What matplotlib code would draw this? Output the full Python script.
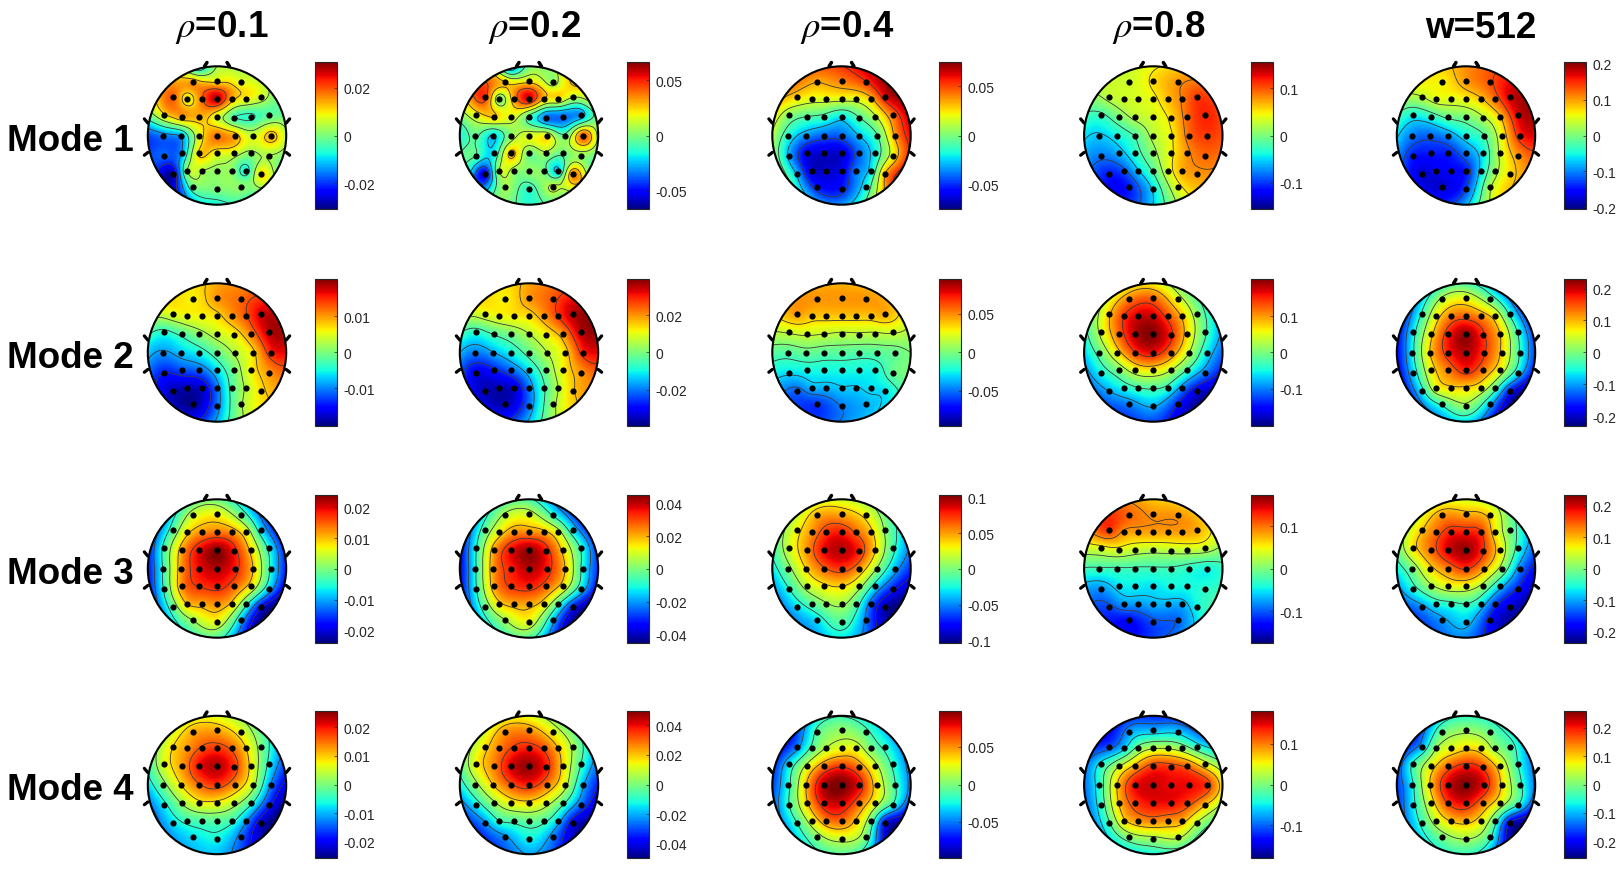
#!/usr/bin/env python3
"""Scalp maps of the four modes, one column per setting."""

import numpy as np
import matplotlib
matplotlib.use("Agg")
import matplotlib.pyplot as plt
from matplotlib.patches import Circle

plt.rcParams['font.family'] = ['Liberation Sans', 'DejaVu Sans']
plt.rcParams['mathtext.fontset'] = 'stix'

W, H = 1619, 870

col_titles = [r'$\rho$=0.1', r'$\rho$=0.2', r'$\rho$=0.4', r'$\rho$=0.8', 'w=512']
row_titles = ['Mode 1', 'Mode 2', 'Mode 3', 'Mode 4']

# electrodes, in head radii
elec_x = [-0.35, 0, 0.35,
          -0.64, -0.43, -0.22, 0, 0.21, 0.42, 0.63,
          -0.76, -0.50, -0.26, 0, 0.25, 0.49, 0.75,
          -0.78, -0.52, -0.26, 0, 0.26, 0.52, 0.78,
          -0.76, -0.50, -0.26, 0, 0.25, 0.49, 0.75,
          -0.64, -0.43, -0.22, 0, 0.21, 0.42, 0.63,
          -0.35, 0, 0.35]
elec_y = [0.77, 0.79, 0.77,
          0.55, 0.53, 0.53, 0.53, 0.53, 0.53, 0.55,
          0.30, 0.27, 0.27, 0.27, 0.26, 0.27, 0.30,
          0.0, 0.0, 0.0, 0.0, 0.0, 0.0, 0.0,
          -0.29, -0.26, -0.26, -0.26, -0.26, -0.26, -0.29,
          -0.55, -0.52, -0.52, -0.52, -0.52, -0.52, -0.55,
          -0.75, -0.78, -0.75]

# colour limit of each map (mode, column)
limits = [[0.0308, 0.0667, 0.0747, 0.155, 0.205],
          [0.0203, 0.0394, 0.095, 0.2028, 0.23],
          [0.024, 0.045, 0.103, 0.174, 0.234],
          [0.0257, 0.0498, 0.098, 0.181, 0.26]]

ticks = [[[-.02, 0, .02], [-.05, 0, .05], [-.05, 0, .05], [-.1, 0, .1], [-.2, -.1, 0, .1, .2]],
         [[-.01, 0, .01], [-.02, 0, .02], [-.05, 0, .05], [-.1, 0, .1], [-.2, -.1, 0, .1, .2]],
         [[-.02, -.01, 0, .01, .02], [-.04, -.02, 0, .02, .04], [-.1, -.05, 0, .05, .1], [-.1, 0, .1], [-.2, -.1, 0, .1, .2]],
         [[-.02, -.01, 0, .01, .02], [-.04, -.02, 0, .02, .04], [-.05, 0, .05], [-.1, 0, .1], [-.2, -.1, 0, .1, .2]]]

# electrode values, percent of the colour limit
m1_01 = [50, 30, 25, 62, 25, 60, 90, 45, 30, 20, 35, 50, 45, 20, -15, -20, -10,
         -50, -40, 25, 58, 45, 20, 45, -55, -40, 40, 25, 20, 5, 10,
         -90, 10, 10, 5, 5, -25, 35, -5, 0, 5]
m1_02 = [40, 30, 5, 70, 0, 50, 85, 40, 35, 15, 30, 40, 25, -15, -55, -55, -45,
         -5, -35, 5, 25, 30, -5, 65, -10, -25, 45, -5, 10, -5, 5,
         -80, 15, 5, 5, 0, -35, 55, 10, -20, 20]
m1_04 = [45, 55, 70, 35, 25, 25, 25, 25, 40, 80, 5, -10, -15, -30, -10, 15, 60,
         -20, -45, -55, -55, -35, -10, 50, -40, -80, -85, -85, -55, -25, 30,
         -40, -85, -85, -80, -50, -30, 45, -70, -70, -25]
m1_08 = [20, 35, 50, 15, 20, 22, 28, 42, 55, 70, -15, 0, 15, 22, 35, 60, 75,
         -35, -25, -10, 15, 30, 60, 70, -50, -40, -20, 5, 28, 50, 60,
         -70, -60, -35, -10, 22, 45, 50, -70, -30, 25]
m1_w = [30, 50, 65, 15, 25, 25, 30, 40, 60, 85, -25, -20, -5, 0, 15, 40, 85,
        -50, -55, -45, -25, -10, 30, 75, -70, -70, -70, -50, -25, 20, 50,
        -85, -80, -75, -70, -30, 10, 35, -85, -60, 15]

m2_01 = [30, 50, 60, 25, 28, 30, 35, 50, 65, 85, -20, -10, 5, 20, 30, 55, 90,
         -45, -35, -25, -5, 15, 35, 75, -70, -60, -55, -30, 0, 30, 50,
         -90, -90, -85, -50, -10, 15, 35, -95, -50, 10]
m2_02 = [30, 50, 65, 25, 28, 32, 35, 50, 70, 90, -20, -10, 0, 15, 30, 50, 90,
         -50, -40, -25, -5, 15, 35, 75, -80, -70, -55, -30, 0, 30, 50,
         -90, -90, -85, -50, -15, 15, 40, -90, -50, 10]
m2_04 = [50, 50, 50, 48, 40, 40, 40, 40, 40, 45, 20, 20, 18, 15, 15, 15, 20,
         -10, -5, -8, -8, -10, -8, -5, -30, -25, -25, -25, -25, -25, -5,
         -55, -40, -40, -35, -35, -30, -30, -65, -50, -40]
m2_08 = [55, 60, 25, 40, 70, 85, 85, 65, 40, 5, 20, 60, 90, 98, 75, 35, -10,
         -5, 35, 70, 80, 55, 15, -30, -25, 0, 25, 30, 15, -15, -50,
         -40, -25, -15, -12, -20, -50, -80, -50, -40, -70]
m2_w = [15, 25, -5, -15, 30, 55, 60, 50, 30, -20, -25, 35, 75, 95, 70, 40, -20,
        -25, 40, 75, 90, 70, 35, -20, -30, 30, 55, 75, 55, 25, -30,
        -25, 25, 35, 35, 25, -10, -70, -15, 5, -40]

m3_01 = [20, 28, -5, -8, 35, 50, 55, 50, 25, -30, -12, 50, 80, 98, 75, 35, -25,
         -18, 50, 80, 90, 75, 40, -25, -15, 55, 70, 75, 60, 30, -35,
         -5, 40, 45, 50, 35, -15, -75, 10, 25, -40]
m3_02 = [15, 20, -20, -5, 30, 50, 50, 45, 20, -30, -18, 50, 80, 95, 75, 35, -20,
         -22, 50, 75, 90, 75, 40, -25, -18, 50, 70, 75, 60, 30, -30,
         -5, 35, 45, 45, 30, -15, -70, 10, 25, -40]
m3_04 = [45, 45, 30, 30, 50, 70, 75, 60, 40, 5, 20, 50, 80, 90, 75, 35, -15,
         0, 35, 60, 70, 50, 5, -40, -20, 15, 30, 35, 15, -30, -70,
         -30, -10, 5, 10, -10, -55, -90, -30, -10, -50]
m3_08 = [60, 50, 50, 70, 50, 48, 48, 48, 48, 45, 25, 25, 18, 15, 15, 18, 20,
         -15, -15, -15, -15, -15, -20, -25, -45, -30, -28, -30, -25, -25, -20,
         -60, -45, -45, -40, -40, -40, -25, -75, -60, -55]
m3_w = [50, 45, 35, 40, 60, 75, 75, 70, 30, 0, 35, 60, 85, 95, 70, 30, -20,
        0, 35, 55, 70, 45, 5, -50, -20, 10, 25, 25, 5, -35, -70,
        -45, -25, -20, -15, -30, -65, -85, -45, -35, -75]

m4_01 = [45, 45, 25, 35, 50, 65, 70, 60, 35, 0, 25, 50, 80, 90, 70, 30, -25,
         0, 35, 60, 70, 50, 15, -50, -25, 10, 30, 30, 15, -15, -70,
         -30, -15, -10, -8, -15, -45, -85, -30, -25, -55]
m4_02 = [50, 50, 25, 35, 55, 70, 75, 65, 40, 10, 30, 55, 85, 95, 75, 35, -15,
         5, 40, 65, 75, 55, 20, -40, -25, 10, 30, 35, 20, -10, -55,
         -45, -15, -10, -5, -10, -35, -80, -45, -25, -50]
m4_04 = [-10, 5, -10, -50, -10, 15, 25, 25, 0, -20, -30, 20, 55, 70, 55, 20, -20,
         -24, 40, 90, 100, 80, 30, -15, -16, 40, 80, 85, 60, 25, -20,
         -15, 25, 55, 60, 40, 0, -75, 5, 20, 0]
m4_08 = [-45, -40, -35, -60, -35, 0, 15, 15, 5, -20, -25, 15, 45, 70, 70, 60, 25,
         -20, 40, 80, 85, 80, 80, 70, -20, 40, 70, 80, 80, 70, 40,
         -10, 35, 50, 55, 50, 45, 15, 5, 10, 20]
m4_w = [-5, 5, -5, -40, 10, 25, 35, 30, 5, -10, -15, 30, 60, 75, 65, 30, -20,
        -25, 40, 85, 98, 80, 35, -15, -25, 30, 70, 80, 55, 25, -20,
        -15, 20, 40, 45, 30, -10, -80, 0, 10, -15]

maps = [[m1_01, m1_02, m1_04, m1_08, m1_w],
        [m2_01, m2_02, m2_04, m2_08, m2_w],
        [m3_01, m3_02, m3_04, m3_08, m3_w],
        [m4_01, m4_02, m4_04, m4_08, m4_w]]

# values read on the rim of the two busy maps, degrees clockwise from the nose
rim_angle = [0, 30, 60, 90, 120, 150, 180, 210, 240, 270, 300, 330, 344]
rim_m1_01 = [10, 15, -5, 15, 0, -10, -25, -55, -70, -60, 40, 30, -25]
rim_m1_02 = [0, 30, 15, 10, 0, 0, -20, -5, -25, -25, 45, 40, -40]
rims = {(0, 0): rim_m1_01, (0, 1): rim_m1_02}

# layout in pixels of the full picture
head_cx = [217, 529, 841.5, 1153.3, 1466]
head_cy = [136.5, 353.5, 569.5, 786]
head_r = 69.2
bar_x = [315, 627, 939, 1251, 1564]
bar_y = [(63, 210), (280, 426.7), (496, 643.7), (712, 859)]
bar_w = 21.5
title_x = [222, 535, 847, 1159, 1481]
title_y = 28
label_dy = 5

ex = np.array(elec_x)
ey = np.array(elec_y)


def biharmonic(xs, ys, z, gx, gy):
    # same idea as griddata v4
    d = np.hypot(xs[:, None] - xs[None, :], ys[:, None] - ys[None, :])
    g = np.where(d > 0, d**2 * (np.log(np.maximum(d, 1e-9)) - 1), 0)
    w = np.linalg.solve(g, z)
    dg = np.hypot(gx[..., None] - xs, gy[..., None] - ys)
    gg = np.where(dg > 0, dg**2 * (np.log(np.maximum(dg, 1e-9)) - 1), 0)
    return gg @ w


def px_axes(fig, x0, y0, x1, y1):
    return fig.add_axes([x0 / W, 1 - y1 / H, (x1 - x0) / W, (y1 - y0) / H])


fig = plt.figure(figsize=(W / 100, H / 100), dpi=100)

grid = np.linspace(-1, 1, 161)
gx, gy = np.meshgrid(grid, grid)
pad = 1.12

for r in range(4):
    for c in range(5):
        lim = limits[r][c]
        cx, cy = head_cx[c], head_cy[r]
        size = head_r * pad
        ax = px_axes(fig, cx - size, cy - size, cx + size, cy + size)
        xs, ys = ex, ey
        vals = np.array(maps[r][c], dtype=float)
        if (r, c) in rims:
            a = np.radians(rim_angle)
            xs = np.concatenate([ex, np.sin(a)])
            ys = np.concatenate([ey, np.cos(a)])
            vals = np.concatenate([vals, rims[(r, c)]])
        z = vals / 100 * lim
        zi = biharmonic(xs, ys, z, gx, gy)
        zi[np.hypot(gx, gy) > 1.005] = np.nan

        head = Circle((0, 0), 1, transform=ax.transData, fc='none', ec='none')
        ax.add_patch(head)
        im = ax.imshow(zi, extent=(-1, 1, -1, 1), origin='lower', cmap='jet',
                       vmin=-lim, vmax=lim, interpolation='bilinear')
        im.set_clip_path(head)

        levels = np.linspace(np.nanmin(zi), np.nanmax(zi), 8)[1:-1]
        cs = ax.contour(gx, gy, zi, levels=levels, colors='#3a3a3a',
                        linewidths=0.6, linestyles='solid')
        cs.set_clip_path(head)

        ax.scatter(ex, ey, s=20, c='k', linewidths=0, zorder=4)
        ax.add_patch(Circle((0, 0), 1, fc='none', ec='k', lw=1.5, zorder=5))

        # nose and ears
        for sx in (-1, 1):
            ax.plot([sx * 0.18, sx * 0.145], [1.0, 1.055], color='k', lw=2.5, solid_capstyle='round', zorder=5)
            ax.plot([sx * 1.0, sx * 1.05], [0.18, 0.24], color='k', lw=2.3, solid_capstyle='round', zorder=5)
            ax.plot([sx * 1.0, sx * 1.05], [-0.245, -0.285], color='k', lw=2.3, solid_capstyle='round', zorder=5)

        ax.set_xlim(-pad, pad)
        ax.set_ylim(-pad, pad)
        ax.axis('off')

        # colour bar
        y0, y1 = bar_y[r]
        cax = px_axes(fig, bar_x[c], y0, bar_x[c] + bar_w, y1)
        cb = fig.colorbar(im, cax=cax)
        cb.set_ticks(ticks[r][c])
        cb.set_ticklabels([str(t) if t != 0 else '0' for t in ticks[r][c]])
        cax.tick_params(length=2.5, width=0.5, direction='in', color='#262626',
                        labelcolor='#262626', labelsize=10, pad=5)
        cb.outline.set_edgecolor('#262626')
        cb.outline.set_linewidth(0.8)

for c, t in enumerate(col_titles):
    fig.text(title_x[c] / W, 1 - title_y / H, t, ha='center', va='center',
             fontsize=26.5, fontweight='bold', color='k')

for r, t in enumerate(row_titles):
    fig.text(7 / W, 1 - (head_cy[r] + label_dy) / H, t, ha='left', va='center',
             fontsize=26.5, fontweight='bold', color='k')

fig.savefig('out.png', dpi=100, facecolor='white')
